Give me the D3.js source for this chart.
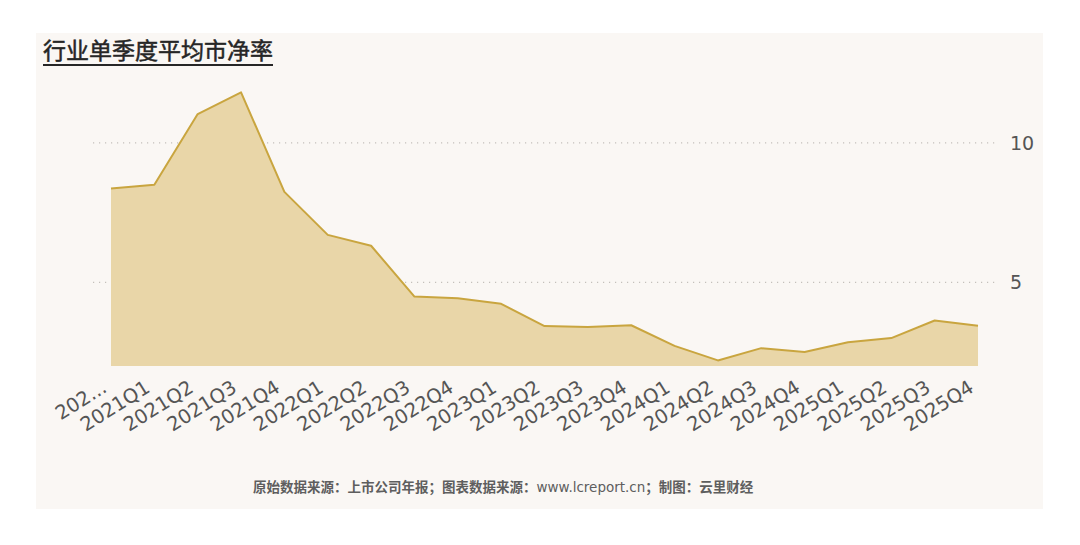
<!DOCTYPE html>
<html>
<head>
<meta charset="utf-8">
<script src="https://cdn.jsdelivr.net/npm/d3@7.9.0/dist/d3.min.js"></script>
<style>
  body { margin: 0; background: #ffffff; }
  svg { display: block; }
</style>
</head>
<body>
<svg id="chart"></svg>
<script>
// 行业单季度平均市净率
const quarters = ["2020Q4", "2021Q1", "2021Q2", "2021Q3", "2021Q4", "2022Q1", "2022Q2",
  "2022Q3", "2022Q4", "2023Q1", "2023Q2", "2023Q3", "2023Q4", "2024Q1", "2024Q2",
  "2024Q3", "2024Q4", "2025Q1", "2025Q2", "2025Q3", "2025Q4"];
const tickLabels = ["202...", "2021Q1", "2021Q2", "2021Q3", "2021Q4", "2022Q1", "2022Q2",
  "2022Q3", "2022Q4", "2023Q1", "2023Q2", "2023Q3", "2023Q4", "2024Q1", "2024Q2",
  "2024Q3", "2024Q4", "2025Q1", "2025Q2", "2025Q3", "2025Q4"];
const pbValues = [8.36, 8.50, 11.03, 11.81, 8.24, 6.70, 6.31, 4.49, 4.43, 4.23, 3.43,
  3.40, 3.46, 2.72, 2.20, 2.64, 2.50, 2.85, 3.00, 3.63, 3.44];
const yTicks = [5, 10];

const W = 1080, H = 545;
const svg = d3.select("#chart").attr("width", W).attr("height", H);

// panel background
svg.append("rect")
  .attr("x", 36).attr("y", 33)
  .attr("width", 1007).attr("height", 476)
  .attr("fill", "#faf7f4");

const x = d3.scalePoint().domain(quarters).range([93, 996]).padding(0.415);
const y = d3.scaleLinear().domain([2, 12]).range([366, 87]);

// gridlines + right labels
yTicks.forEach(t => {
  svg.append("line")
    .attr("x1", 93).attr("x2", 996)
    .attr("y1", y(t)).attr("y2", y(t))
    .attr("stroke", "#c4c0bb")
    .attr("stroke-width", 1.2)
    .attr("stroke-dasharray", "1.2,4.8");
  svg.append("text")
    .attr("x", 1010).attr("y", y(t))
    .attr("dy", "0.36em")
    .attr("font-family", "DejaVu Sans, Verdana, sans-serif")
    .attr("font-size", 19)
    .attr("fill", "#555")
    .text(t);
});

const data = quarters.map((q, i) => ({ q, v: pbValues[i] }));

const area = d3.area()
  .x(d => x(d.q))
  .y0(y(2))
  .y1(d => y(d.v));

const line = d3.line()
  .x(d => x(d.q))
  .y(d => y(d.v));

svg.append("path")
  .datum(data)
  .attr("fill", "#e9d6a8")
  .attr("d", area);

svg.append("path")
  .datum(data)
  .attr("fill", "none")
  .attr("stroke", "#c9a53f")
  .attr("stroke-width", 2)
  .attr("stroke-linejoin", "round")
  .attr("d", line);

// x labels
svg.append("g")
  .selectAll("text")
  .data(quarters)
  .join("text")
  .attr("transform", d => `translate(${x(d) - 3},391) rotate(-32)`)
  .attr("text-anchor", "end")
  .attr("font-family", "DejaVu Sans, Verdana, sans-serif")
  .attr("font-size", 19.5)
  .attr("fill", "#555")
  .text((d, i) => tickLabels[i]);

// title
const title = svg.append("text")
  .attr("x", 43).attr("y", 59)
  .attr("font-family", "Noto Sans CJK SC, sans-serif")
  .attr("font-size", 23)
  .attr("fill", "#262626")
  .attr("stroke", "#262626")
  .attr("stroke-width", 0.5)
  .text("行业单季度平均市净率");
const tw = title.node().getComputedTextLength();
svg.append("line")
  .attr("x1", 43).attr("x2", 43 + tw)
  .attr("y1", 65).attr("y2", 65)
  .attr("stroke", "#262626")
  .attr("stroke-width", 1.8);

// footer
const foot = svg.append("text")
  .attr("x", 253).attr("y", 492)
  .attr("font-family", "Noto Sans CJK SC, sans-serif")
  .attr("font-size", 13.5)
  .attr("font-weight", "bold")
  .attr("fill", "#5e5e5e");
foot.append("tspan").text("原始数据来源：上市公司年报；图表数据来源：");
foot.append("tspan").attr("font-weight", "normal").attr("font-family", "DejaVu Sans, sans-serif").text("www.lcreport.cn");
foot.append("tspan").text("；制图：云里财经");
</script>
</body>
</html>
